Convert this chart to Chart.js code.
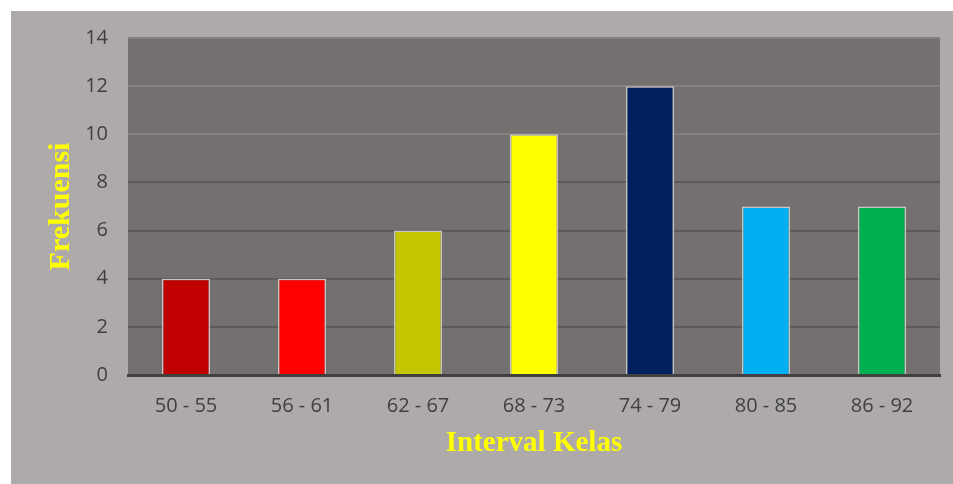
<!DOCTYPE html>
<html>
<head>
<meta charset="utf-8">
<script src="https://cdn.jsdelivr.net/npm/chart.js@4"></script>
<style>
  html,body{margin:0;padding:0;background:#fff;}
  #wrap{position:absolute;left:11px;top:11px;width:942px;height:473px;background:#aeaaa9;}
  canvas{display:block;}
</style>
</head>
<body>
<div id="wrap"><canvas id="chart" width="942" height="473"></canvas></div>
<script>
const intervals = ['50 - 55','56 - 61','62 - 67','68 - 73','74 - 79','80 - 85','86 - 92'];
const frekuensi = [4, 4, 6, 10, 12, 7, 7];
const barColors = ['#c00000','#ff0000','#c4c400','#ffff00','#002060','#00b0f0','#00b050'];

// fills the plot area with the darker grey
const plotBg = {
  id:'plotBg',
  beforeDraw(chart){
    const {ctx, chartArea:a} = chart;
    ctx.save();
    ctx.fillStyle = '#747070';
    ctx.fillRect(a.left, a.top, a.right - a.left, a.bottom - a.top);
    ctx.restore();
  }
};

new Chart(document.getElementById('chart'), {
  type:'bar',
  data:{
    labels:intervals,
    datasets:[{
      data:frekuensi,
      backgroundColor:barColors,
      borderColor:'#c9c6c5',
      borderWidth:1.5,
      barPercentage:0.414,
      categoryPercentage:1
    }]
  },
  options:{
    responsive:false,
    animation:false,
    layout:{padding:{top:27,right:13,left:0,bottom:0}},
    plugins:{legend:{display:false},tooltip:{enabled:false}},
    scales:{
      x:{
        grid:{display:false},
        border:{display:true,color:'#404040',width:3},
        ticks:{color:'#404040',font:{family:'Open Sans',size:20},padding:11,maxRotation:0},
        title:{display:true,text:'Interval Kelas',color:'#ffff00',
          font:{family:'Liberation Serif',size:29,weight:'bold'},padding:{top:0,bottom:22.6}},
        afterFit(s){ s.height = 109; }
      },
      y:{
        min:0,max:14,
        ticks:{stepSize:2,color:'#404040',font:{family:'Open Sans',size:20},padding:20},
        grid:{drawTicks:false,lineWidth:2,
          color:c=>c.tick && c.tick.value>=10 ? '#85807f' : '#5e5a59'},
        border:{display:false},
        title:{display:true,text:'Frekuensi',color:'#ffff00',
          font:{family:'Liberation Serif',size:30,weight:'bold'},padding:{top:32.5,bottom:0}},
        afterFit(s){
          s.width = 117;
          // tick padding would otherwise push the plot top down
          s.paddingTop = 12;
          s.paddingBottom = 12;
        }
      }
    }
  },
  plugins:[plotBg]
});
</script>
</body>
</html>
